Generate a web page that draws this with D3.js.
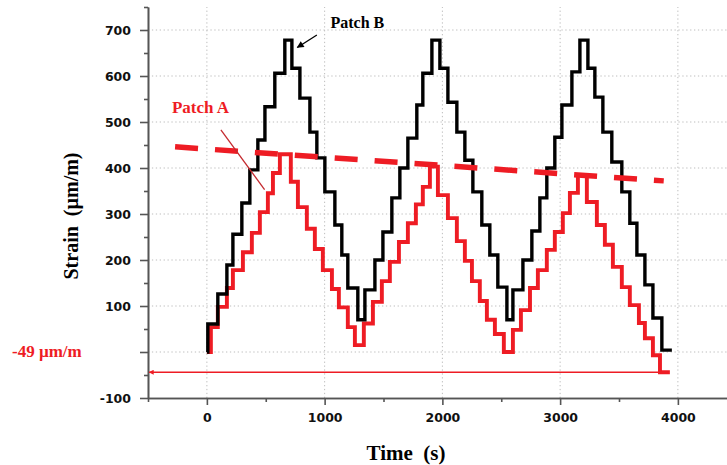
<!DOCTYPE html>
<html><head><meta charset="utf-8">
<script src="https://cdn.jsdelivr.net/npm/d3@7"></script>
<style>body{margin:0;background:#fff}svg{display:block}</style>
</head><body><svg id="c" width="727" height="465"></svg>
<script>
// ---- data ----
const patchBTime = [0,8,93,170,221,297,365,433,493,577,662,722,790,875,934,1002,1087,1146,1197,1282,1342,1427,1495,1571,1639,1707,1783,1834,1911,1979,2047,2123,2191,2259,2335,2403,2471,2548,2599,2684,2760,2828,2887,2955,3015,3100,3168,3236,3295,3363,3439,3524,3592,3652,3720,3788,3864,3949];
const patchBStrain = [0,61,126,189,256,324,396,461,533,606,678,617,552,478,422,348,276,211,139,70,135,200,261,335,400,465,537,606,678,617,543,478,417,348,276,211,141,70,135,200,263,335,400,467,537,609,678,617,554,478,413,348,280,211,146,74,4,4];
const patchATime = [0,34,93,170,221,306,382,450,518,561,620,713,773,849,917,985,1062,1121,1197,1257,1333,1410,1486,1554,1631,1707,1775,1834,1894,1962,2047,2123,2191,2251,2318,2378,2446,2522,2599,2667,2744,2811,2887,2955,3023,3083,3151,3227,3312,3380,3448,3524,3592,3669,3720,3788,3848,3932];
const patchAStrain = [0,54,98,139,178,217,259,304,345,389,430,370,315,268,224,178,137,97,54,15,62,109,154,196,239,280,321,359,403,341,291,241,198,154,111,70,39,0,48,91,139,178,222,261,302,346,385,326,276,233,185,141,102,63,30,-7,-44,-44];
const trendTime = [-270, 3880];
const trendStrain = [446, 372];
const residualTime = [3910, -490];
const residualStrain = [-44, -44];
const xMajor = [0, 1000, 2000, 3000, 4000];
const xMajorLabels = ["0", "1000", "2000", "3000", "4000"];
const xMinor = [-500, 500, 1500, 2500, 3500, 4500];
const yMajor = [-100, 0, 100, 200, 300, 400, 500, 600, 700];
const yMajorLabels = ["-100", "", "100", "200", "300", "400", "500", "600", "700"];
const yMinor = [-50, 50, 150, 250, 350, 450, 550, 650, 750];
const xGrid = [0, 1000, 2000, 3000, 4000];
const yGrid = [0, 100, 200, 300, 400, 500, 600, 700];

// ---- chart ----
const svg = d3.select("#c");
const x = d3.scaleLinear().domain([-500, 4500]).range([148, 736.75]);
const y = d3.scaleLinear().domain([-100, 750]).range([398, 7]);
const RED = "#ee1c24";

// grid
const grid = svg.append("g").attr("stroke", "#bdbdbd").attr("stroke-width", 1).attr("stroke-dasharray", "1.3,2.6");
grid.selectAll(".gx").data(xGrid).join("line")
  .attr("x1", d => x(d)).attr("x2", d => x(d)).attr("y1", y(-100)).attr("y2", y(750));
grid.selectAll(".gy").data(yGrid).join("line")
  .attr("x1", x(-500)).attr("x2", 727).attr("y1", d => y(d)).attr("y2", d => y(d));

// axes
function styleAxis(g) {
  g.selectAll("path,line").attr("stroke", "#555").attr("stroke-width", 1.6);
  g.selectAll("text").attr("font-family", "DejaVu Sans, Verdana, sans-serif")
    .attr("font-weight", "bold").attr("font-size", 12.5).attr("fill", "#111");
}
svg.append("g").attr("transform", `translate(${x(-500)},0)`)
  .call(d3.axisLeft(y).tickValues(yMinor).tickSize(4).tickSizeOuter(0).tickFormat(""))
  .call(styleAxis);
svg.append("g").attr("transform", `translate(${x(-500)},0)`)
  .call(d3.axisLeft(y).tickValues(yMajor).tickSize(8).tickPadding(9).tickSizeOuter(0)
    .tickFormat((d, i) => yMajorLabels[i]))
  .call(styleAxis);
svg.append("g").attr("transform", `translate(0,${y(-100)})`)
  .call(d3.axisBottom(x).tickValues(xMinor).tickSize(4).tickSizeOuter(0).tickFormat(""))
  .call(styleAxis);
svg.append("g").attr("transform", `translate(0,${y(-100)})`)
  .call(d3.axisBottom(x).tickValues(xMajor).tickSize(7).tickPadding(8).tickSizeOuter(0)
    .tickFormat((d, i) => xMajorLabels[i]))
  .call(styleAxis);

// series
const step = d3.line().x(d => x(d[0])).y(d => y(d[1])).curve(d3.curveStepAfter);
const aPts = d3.zip(patchATime, patchAStrain);
const bPts = d3.zip(patchBTime, patchBStrain);
svg.append("path").attr("d", step(aPts)).attr("fill", "none").attr("stroke", RED)
  .attr("stroke-width", 3.9).attr("stroke-linejoin", "miter");
svg.append("path").attr("d", step(bPts)).attr("fill", "none").attr("stroke", "#000")
  .attr("stroke-width", 3.4).attr("stroke-linejoin", "miter");

// trend dashed line
svg.append("line")
  .attr("x1", x(trendTime[0])).attr("y1", y(trendStrain[0]))
  .attr("x2", x(trendTime[1])).attr("y2", y(trendStrain[1]))
  .attr("stroke", RED).attr("stroke-width", 5.5).attr("stroke-dasharray", "23,17");

// residual arrow
const defs = svg.append("defs");
defs.append("marker").attr("id", "ahR").attr("viewBox", "0 0 10 10").attr("refX", 9).attr("refY", 5)
  .attr("markerWidth", 7).attr("markerHeight", 5).attr("orient", "auto").attr("markerUnits", "userSpaceOnUse")
  .append("path").attr("d", "M0,0L10,5L0,10Z").attr("fill", RED);
defs.append("marker").attr("id", "ahK").attr("viewBox", "0 0 10 10").attr("refX", 9).attr("refY", 5)
  .attr("markerWidth", 9).attr("markerHeight", 7).attr("orient", "auto").attr("markerUnits", "userSpaceOnUse")
  .append("path").attr("d", "M0,0L10,5L0,10Z").attr("fill", "#000");
svg.append("line")
  .attr("x1", x(residualTime[0])).attr("y1", y(residualStrain[0]))
  .attr("x2", x(residualTime[1])).attr("y2", y(residualStrain[1]))
  .attr("stroke", RED).attr("stroke-width", 1.4).attr("marker-end", "url(#ahR)");

// annotations
const serif = "Liberation Serif, Times New Roman, serif";
svg.append("text").attr("x", 12).attr("y", 357).text("-49 µm/m")
  .attr("font-family", serif).attr("font-weight", "bold").attr("font-size", 17).attr("fill", RED);
svg.append("text").attr("x", x(-297)).attr("y", y(520)).text("Patch A")
  .attr("font-family", serif).attr("font-weight", "bold").attr("font-size", 17).attr("fill", RED);
svg.append("line").attr("x1", x(119)).attr("y1", y(483)).attr("x2", x(490)).attr("y2", y(353))
  .attr("stroke", "#c42a2f").attr("stroke-width", 1.3);
svg.append("text").attr("x", x(1050)).attr("y", y(704)).text("Patch B")
  .attr("font-family", serif).attr("font-weight", "bold").attr("font-size", 16).attr("fill", "#000");
svg.append("line").attr("x1", x(934)).attr("y1", y(689)).attr("x2", x(768)).attr("y2", y(662))
  .attr("stroke", "#000").attr("stroke-width", 1.3).attr("marker-end", "url(#ahK)");

// axis titles
svg.append("text").attr("transform", "translate(78,216) rotate(-90)").attr("text-anchor", "middle")
  .attr("font-family", serif).attr("font-weight", "bold").attr("font-size", 20)
  .style("white-space", "pre").text("Strain  (µm/m)");
svg.append("text").attr("x", 406).attr("y", 460).attr("text-anchor", "middle")
  .attr("font-family", serif).attr("font-weight", "bold").attr("font-size", 21)
  .style("white-space", "pre").text("Time  (s)");
</script></body></html>
